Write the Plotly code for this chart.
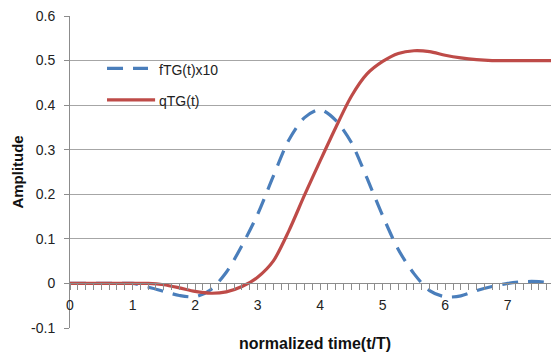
import plotly.graph_objects as go

# time in units of T
t = [0.0, 0.25, 0.5, 0.75, 1.0, 1.25, 1.5, 1.75, 2.0, 2.25, 2.5, 2.75, 3.0, 3.25, 3.5, 3.75,
     4.0, 4.25, 4.5, 4.75, 5.0, 5.25, 5.5, 5.75, 6.0, 6.25, 6.5, 6.75, 7.0, 7.25, 7.5, 7.75]

fTG_x10 = [0.0, 0.0, 0.0, 0.0, 0.0, -0.008, -0.018, -0.027, -0.03, -0.014, 0.025, 0.085,
           0.155, 0.24, 0.322, 0.372, 0.39, 0.366, 0.316, 0.236, 0.152, 0.076, 0.022, -0.016,
           -0.03, -0.028, -0.016, -0.007, 0.0, 0.004, 0.004, 0.0]

qTG = [0.0, 0.0, 0.0, 0.0, 0.0, 0.0, -0.003, -0.01, -0.018, -0.022, -0.019, -0.007,
       0.014, 0.05, 0.118, 0.198, 0.275, 0.35, 0.42, 0.47, 0.498, 0.516, 0.522, 0.52,
       0.512, 0.506, 0.502, 0.5, 0.5, 0.5, 0.5, 0.5]

series_names = ["fTG(t)x10", "qTG(t)"]

x_tick_vals = [0, 1, 2, 3, 4, 5, 6, 7]
x_tick_text = ["0", "1", "2", "3", "4", "5", "6", "7"]
y_tick_vals = [-0.1, 0.0, 0.1, 0.2, 0.3, 0.4, 0.5, 0.6]
y_tick_text = ["-0.1", "0", "0.1", "0.2", "0.3", "0.4", "0.5", "0.6"]

FONT = "Liberation Sans"
BLUE = "#4a7ebb"
RED = "#be4b48"
GRID = "#a6a6a6"
AXIS = "#8c8c8c"
DASH = "16px,10px"

fig = go.Figure()
fig.add_trace(go.Scatter(x=t, y=fTG_x10, mode="lines", name=series_names[0],
                         line=dict(color=BLUE, width=3.2, dash=DASH, shape="spline", smoothing=0.8)))
fig.add_trace(go.Scatter(x=t, y=qTG, mode="lines", name=series_names[1],
                         line=dict(color=RED, width=3.2, shape="spline", smoothing=0.8)))

# legend drawn as line samples + labels (paper coordinates)
legend_rows = [(0.832, BLUE, DASH, 0.0757, 0.1595), (0.731, RED, "solid", 0.0757, 0.174)]
shapes = []
annotations = []
for name, (yy, col, dsh, x0, x1) in zip(series_names, legend_rows):
    shapes.append(dict(type="line", xref="paper", yref="paper", x0=x0, x1=x1, y0=yy, y1=yy,
                       line=dict(color=col, width=3.2, dash=dsh)))
    annotations.append(dict(text=name, xref="paper", yref="paper", x=0.177, y=yy - 0.004,
                            xanchor="left", yanchor="middle", showarrow=False,
                            font=dict(size=14, color="#222")))

annotations += [
    dict(text="<b>normalized time(t/T)</b>", xref="paper", yref="paper",
         x=0.5, y=0, yshift=-15, showarrow=False, xanchor="center", yanchor="middle",
         font=dict(size=16, color="#111")),
    dict(text="<b>Amplitude</b>", xref="paper", yref="paper",
         x=0, xshift=-52, y=0.498, showarrow=False, textangle=-90,
         xanchor="center", yanchor="middle", font=dict(size=15, color="#111")),
]

fig.update_layout(
    width=551, height=350,
    margin=dict(l=62, r=0, t=3, b=30),
    plot_bgcolor="white", paper_bgcolor="white",
    font=dict(family=FONT, size=14, color="#222"),
    showlegend=False,
    shapes=shapes,
    annotations=annotations,
    xaxis=dict(range=[0, 7.82], anchor="free", position=1/7,
               tickmode="array", tickvals=x_tick_vals, ticktext=x_tick_text,
               showline=True, linecolor=AXIS, linewidth=1,
               ticks="outside", ticklen=6, tickcolor=AXIS,
               minor=dict(dtick=0.125, tick0=0, ticks="outside", ticklen=6, tickcolor=AXIS, showgrid=False),
               showgrid=False, zeroline=False, ticklabelstandoff=3,
               tickfont=dict(size=14, color="#222")),
    yaxis=dict(range=[-0.1, 0.6], tickmode="array", tickvals=y_tick_vals, ticktext=y_tick_text,
               showline=True, linecolor=AXIS, linewidth=1,
               ticks="outside", ticklen=5, tickcolor=AXIS,
               showgrid=True, gridcolor=GRID, gridwidth=1, zeroline=False,
               ticklabeloverflow="allow",
               ticklabelstandoff=6, tickfont=dict(size=14, color="#222")),
)

fig.write_html("out.html")
